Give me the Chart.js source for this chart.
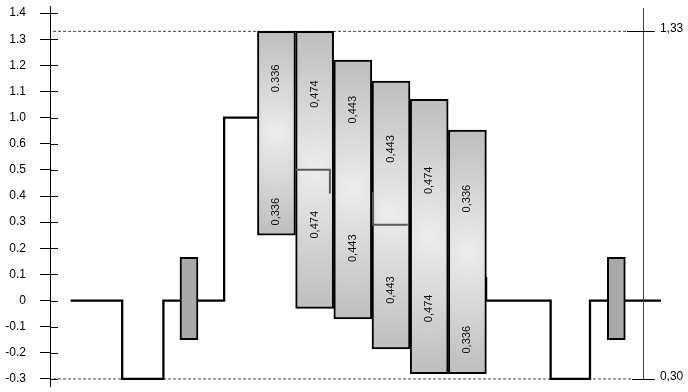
<!DOCTYPE html>
<html>
<head>
<meta charset="utf-8">
<script src="https://cdn.jsdelivr.net/npm/chart.js@4.4.1/dist/chart.umd.min.js"></script>
<style>
  html, body { margin: 0; padding: 0; background: #fff; }
  #wrap { width: 688px; height: 392px; }
</style>
</head>
<body>
<div id="wrap"><canvas id="chart" width="688" height="392"></canvas></div>
<script>
// y axis ticks (not linear: 1.0 comes right after 0.6, every step same height)
const yTickValues = [-0.3, -0.2, -0.1, 0, 0.1, 0.2, 0.3, 0.4, 0.5, 0.6, 1.0, 1.1, 1.2, 1.3, 1.4];
const yTickLabels = ['-0.3', '-0.2', '-0.1', '0', '0.1', '0.2', '0.3', '0.4', '0.5', '0.6', '1.0', '1.1', '1.2', '1.3', '1.4'];

// step signal (null = hidden behind the bars)
const stepX = [0.54, 1.89, 1.89, 2.97, 2.97, 4.56, 4.56, 5.43, 5.5, 11.42, 11.42, 13.11, 13.11, 14.14, 14.14, 16.0];
const stepY = [0, 0, -0.3, -0.3, 0, 0, 1.0, 1.0, null, 0.09, 0, 0, -0.3, -0.3, 0, 0];

// big floating bars
const barX = [5.93, 6.93, 7.93, 8.93, 9.93, 10.93];
const barLow = [0.25, -0.03, -0.07, -0.185, -0.28, -0.28];
const barHigh = [1.33, 1.33, 1.22, 1.14, 1.07, 0.81];
const barUpperText = ['0.336', '0,474', '0,443', '0,443', '0,474', '0,336'];
const barLowerText = ['0,336', '0,474', '0,443', '0,443', '0,474', '0,336'];
const barUpperAt = [1.15, 1.09, 1.03, 0.58, 0.46, 0.39];
const barLowerAt = [0.34, 0.29, 0.2, 0.04, -0.03, -0.15];

// split lines inside bars 2 and 4
const splitX = [6.43, 7.33, 7.33, 7.4, 8.46, 8.46, 9.37];
const splitY = [0.50, 0.50, 0.41, null, 0.415, 0.29, 0.29];

// small boxes
const boxX = [3.64, 14.83];
const boxLow = [-0.15, -0.15];
const boxHigh = [0.165, 0.165];

// reference levels + right axis
const refLevels = [1.33, -0.3];
const refLabels = ['1,33', '0,30'];
const refEndX = [15.11, 15.24];
const rightAxisX = 15.54;
const rightTickEnd = 15.84;

// map a value onto the evenly spaced tick positions
function toAxis(v) {
    const t = yTickValues;
    let i = 0;
    while (i < t.length - 2 && v > t[i + 1]) i++;
    return i + (v - t[i]) / (t[i + 1] - t[i]);
}

const FONT = '"Liberation Sans", Arial, Helvetica, sans-serif';

function barFill(c) {
    const ch = c.chart;
    if (!ch.chartArea) return '#d2d2d2';
    const i = c.dataIndex;
    const cx = ch.scales.x.getPixelForValue(barX[i]);
    const yT = ch.scales.y.getPixelForValue(toAxis(barHigh[i]));
    const yB = ch.scales.y.getPixelForValue(toAxis(barLow[i]));
    const cy = (yT + yB) / 2;
    const g = ch.ctx.createRadialGradient(cx, cy, 0, cx, cy, (yB - yT) / 2);
    g.addColorStop(0, '#ececec');
    g.addColorStop(1, '#bebebe');
    return g;
}

const decor = {
    id: 'decor',
    afterDraw(chart) {
        const ctx = chart.ctx;
        const xs = chart.scales.x, ys = chart.scales.y;
        const area = chart.chartArea;
        ctx.save();

        // left axis ticks cross the axis line
        ctx.strokeStyle = '#000';
        ctx.lineWidth = 1;
        ys.ticks.forEach(t => {
            const y = Math.round(ys.getPixelForValue(t.value)) + 0.5;
            ctx.beginPath();
            ctx.moveTo(area.left, y);
            ctx.lineTo(area.left + 8, y);
            ctx.stroke();
        });

        // right axis
        const rx = Math.round(xs.getPixelForValue(rightAxisX)) + 0.5;
        const rEnd = xs.getPixelForValue(rightTickEnd);
        ctx.strokeStyle = '#444';
        ctx.beginPath();
        ctx.moveTo(rx, area.top + 2);
        ctx.lineTo(rx, ys.getPixelForValue(toAxis(refLevels[1])) + 1);
        ctx.stroke();

        ctx.strokeStyle = '#000';
        ctx.fillStyle = '#000';
        ctx.font = '12px ' + FONT;
        ctx.textAlign = 'left';
        ctx.textBaseline = 'middle';
        refLevels.forEach((v, i) => {
            const y = Math.round(ys.getPixelForValue(toAxis(v))) + 0.5;
            ctx.beginPath();
            ctx.moveTo(xs.getPixelForValue(refEndX[i]), y);
            ctx.lineTo(rEnd, y);
            ctx.stroke();
            ctx.fillText(refLabels[i], rEnd + 5, y - 3);
        });

        // bar value labels, rotated
        ctx.font = '11px ' + FONT;
        ctx.fillStyle = '#111';
        ctx.textAlign = 'center';
        barX.forEach((x, i) => {
            const px = xs.getPixelForValue(x);
            [[barUpperText[i], barUpperAt[i]], [barLowerText[i], barLowerAt[i]]].forEach(([txt, v]) => {
                ctx.save();
                ctx.translate(px, ys.getPixelForValue(toAxis(v)));
                ctx.rotate(-Math.PI / 2);
                ctx.fillText(txt, 0, 0);
                ctx.restore();
            });
        });
        ctx.restore();
    }
};

const chart = new Chart(document.getElementById('chart'), {
    type: 'bar',
    data: {
        datasets: [
            {
                type: 'line',
                data: splitX.map((x, i) => ({ x, y: splitY[i] === null ? null : toAxis(splitY[i]) })),
                borderColor: '#5a5a5a',
                borderWidth: 2,
                pointRadius: 0,
                spanGaps: false,
                order: 0
            },
            {
                data: barX.map((x, i) => ({ x, y: [toAxis(barLow[i]), toAxis(barHigh[i])] })),
                backgroundColor: barFill,
                borderColor: '#000',
                borderWidth: 2,
                borderSkipped: false,
                barThickness: 38,
                order: 1
            },
            {
                data: boxX.map((x, i) => ({ x, y: [toAxis(boxLow[i]), toAxis(boxHigh[i])] })),
                backgroundColor: '#a9a9a9',
                borderColor: '#000',
                borderWidth: 2,
                borderSkipped: false,
                barThickness: 18,
                order: 1
            },
            {
                type: 'line',
                data: stepX.map((x, i) => ({ x, y: stepY[i] === null ? null : toAxis(stepY[i]) })),
                borderColor: '#000',
                borderWidth: 2.3,
                pointRadius: 0,
                spanGaps: false,
                borderJoinStyle: 'miter',
                order: 2
            },
            {
                type: 'line',
                data: [{ x: 0.08, y: toAxis(refLevels[0]) }, { x: refEndX[0], y: toAxis(refLevels[0]) }],
                borderColor: '#444',
                borderWidth: 1,
                borderDash: [3, 2],
                pointRadius: 0,
                order: 3
            },
            {
                type: 'line',
                data: [{ x: 0.08, y: toAxis(refLevels[1]) }, { x: refEndX[1], y: toAxis(refLevels[1]) }],
                borderColor: '#444',
                borderWidth: 1,
                borderDash: [3, 2],
                pointRadius: 0,
                order: 3
            }
        ]
    },
    options: {
        responsive: false,
        animation: false,
        grouped: false,
        layout: { padding: { top: 6, bottom: 6, left: 0, right: 27 } },
        plugins: { legend: { display: false }, tooltip: { enabled: false } },
        scales: {
            x: {
                type: 'linear',
                min: 0,
                max: 16,
                offset: false,
                display: false
            },
            y: {
                min: -0.27,
                max: 14.27,
                afterFit: s => {
                    s.width = 50;
                    s.paddingTop = 0;
                    s.paddingBottom = 0;
                },
                afterBuildTicks: s => { s.ticks = yTickValues.map((v, i) => ({ value: i })); },
                ticks: {
                    padding: 14,
                    color: '#000',
                    font: { size: 12, family: FONT },
                    callback: v => yTickLabels[Math.round(v)]
                },
                grid: {
                    drawOnChartArea: false,
                    drawTicks: true,
                    tickLength: 10,
                    color: '#000',
                    lineWidth: 1
                },
                border: { display: true, color: '#000', width: 1 }
            }
        }
    },
    plugins: [decor]
});
</script>
</body>
</html>
